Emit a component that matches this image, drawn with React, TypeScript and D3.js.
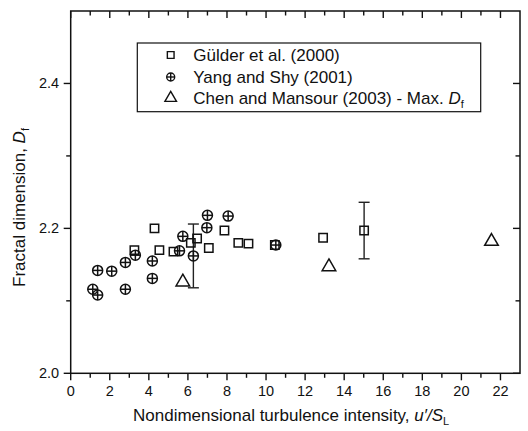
import React, { useEffect, useRef } from 'react';
import * as d3 from 'd3';

// Gülder et al. (2000)
const gulderX = [3.26, 4.29, 4.54, 5.26, 6.15, 6.47, 7.07, 7.87, 8.58, 9.10, 10.45, 12.92, 15.02];
const gulderY = [2.170, 2.200, 2.170, 2.168, 2.180, 2.186, 2.173, 2.197, 2.180, 2.179, 2.177, 2.187, 2.197];
// Yang and Shy (2001)
const yangX = [1.13, 1.38, 1.38, 2.10, 2.80, 2.80, 3.31, 4.18, 4.18, 5.57, 5.74, 6.28, 6.97, 7.00, 8.06, 10.50];
const yangY = [2.116, 2.108, 2.142, 2.141, 2.153, 2.116, 2.163, 2.155, 2.131, 2.169, 2.189, 2.162, 2.201, 2.218, 2.217, 2.177];
// Chen and Mansour (2003) - Max. Df
const chenX = [5.74, 13.22, 21.54];
const chenY = [2.126, 2.147, 2.182];
// error bars: [x, y, +/-]
const errX = [6.28, 15.02];
const errY = [2.162, 2.197];
const errD = [0.044, 0.039];

const xTicks = [0, 2, 4, 6, 8, 10, 12, 14, 16, 18, 20, 22];
const xMinor = [1, 3, 5, 7, 9, 11, 13, 15, 17, 19, 21];
const yTicks = [2.0, 2.2, 2.4];
const yMinor = [2.1, 2.3];

const W = 528;
const H = 431;
const FONT = 'Liberation Sans, Arial, Helvetica, sans-serif';

const App = () => {
  const ref = useRef<SVGSVGElement>(null);

  useEffect(() => {
    const svg = d3.select(ref.current);
    svg.selectAll('*').remove();

    const left = 70.7, right = 520, top = 11, bottom = 373.3;
    const x = d3.scaleLinear().domain([0, 23]).range([left, right]);
    const y = d3.scaleLinear().domain([2.0, 2.5]).range([bottom, top]);
    const ink = '#111';

    // frame
    svg.append('rect')
      .attr('x', left).attr('y', top)
      .attr('width', right - left).attr('height', bottom - top)
      .attr('fill', 'none').attr('stroke', ink).attr('stroke-width', 1.5);

    const tickLines = (g, vals, len, side) => {
      g.selectAll(null)
        .data(vals)
        .enter()
        .append('line')
        .attr('x1', d => side === 'b' || side === 't' ? x(d) : side === 'l' ? left : right)
        .attr('x2', d => side === 'b' || side === 't' ? x(d) : side === 'l' ? left - len : right - len)
        .attr('y1', d => side === 'l' || side === 'r' ? y(d) : side === 'b' ? bottom : top)
        .attr('y2', d => side === 'l' || side === 'r' ? y(d) : side === 'b' ? bottom + len : top + len)
        .attr('stroke', ink).attr('stroke-width', 1.4);
    };
    const axes = svg.append('g');
    tickLines(axes, xTicks, 7, 'b');
    tickLines(axes, xMinor, 4.5, 'b');
    tickLines(axes, xTicks, 7, 't');
    tickLines(axes, xMinor, 4.5, 't');
    tickLines(axes, yTicks, 7, 'l');
    tickLines(axes, yMinor, 4.5, 'l');
    tickLines(axes, yTicks, 7, 'r');
    tickLines(axes, yMinor, 4.5, 'r');

    // tick labels
    axes.selectAll(null)
      .data(xTicks)
      .enter()
      .append('text')
      .attr('x', d => x(d))
      .attr('y', bottom + 23)
      .attr('text-anchor', 'middle')
      .attr('font-family', FONT)
      .attr('font-size', 14.5)
      .attr('fill', ink)
      .text(d => d);
    axes.selectAll(null)
      .data(yTicks)
      .enter()
      .append('text')
      .attr('x', left - 11.5)
      .attr('y', d => y(d) + 5)
      .attr('text-anchor', 'end')
      .attr('font-family', FONT)
      .attr('font-size', 14.5)
      .attr('fill', ink)
      .text(d => d3.format('.1f')(d));

    // axis titles
    const xt = svg.append('text')
      .attr('x', 133).attr('y', 421)
      .attr('font-family', FONT).attr('font-size', 17).attr('fill', ink);
    xt.append('tspan').text('Nondimensional turbulence intensity, ');
    xt.append('tspan').attr('font-style', 'italic').text('u\u2032/S');
    xt.append('tspan').attr('font-size', 11).attr('dy', 4).text('L');

    const yt = svg.append('text')
      .attr('transform', 'translate(25,287) rotate(-90)')
      .attr('font-family', FONT).attr('font-size', 17).attr('fill', ink);
    yt.append('tspan').text('Fractal dimension, ');
    yt.append('tspan').attr('font-style', 'italic').text('D');
    yt.append('tspan').attr('font-size', 11).attr('dy', 4).text('f');

    // error bars
    const eb = svg.append('g').attr('stroke', '#222').attr('stroke-width', 1.4);
    errX.forEach((ex, i) => {
      const y0 = y(errY[i] - errD[i]);
      const y1 = y(errY[i] + errD[i]);
      eb.append('line').attr('x1', x(ex)).attr('x2', x(ex)).attr('y1', y0).attr('y2', y1);
      [y0, y1].forEach(v => {
        eb.append('line').attr('x1', x(ex) - 5.5).attr('x2', x(ex) + 5.5).attr('y1', v).attr('y2', v);
      });
    });

    const square = d3.symbol().type(d3.symbolSquare).size(70);
    const tri = d3.symbol().type(d3.symbolTriangle).size(80);
    const drawCross = (g, cx, cy, r) => {
      g.append('circle').attr('cx', cx).attr('cy', cy).attr('r', r);
      g.append('line').attr('x1', cx - r).attr('x2', cx + r).attr('y1', cy).attr('y2', cy);
      g.append('line').attr('x1', cx).attr('x2', cx).attr('y1', cy - r).attr('y2', cy + r);
    };

    const pts = svg.append('g').attr('fill', 'none').attr('stroke', ink).attr('stroke-width', 1.5);
    pts.selectAll(null)
      .data(d3.zip(gulderX, gulderY))
      .enter()
      .append('path')
      .attr('d', square)
      .attr('transform', d => `translate(${x(d[0])},${y(d[1])})`);
    d3.zip(yangX, yangY).forEach(d => drawCross(pts, x(d[0]), y(d[1]), 5));
    pts.selectAll(null)
      .data(d3.zip(chenX, chenY))
      .enter()
      .append('path')
      .attr('d', tri)
      .attr('transform', d => `translate(${x(d[0])},${y(d[1])})`);

    // legend
    const lg = svg.append('g');
    lg.append('rect')
      .attr('x', 137.3).attr('y', 43)
      .attr('width', 343.4).attr('height', 68.7)
      .attr('fill', '#fff').attr('stroke', ink).attr('stroke-width', 1.2);
    const labels = ['Gülder et al. (2000)', 'Yang and Shy (2001)', 'Chen and Mansour (2003) - Max. '];
    const base = [61, 83, 104];
    const sym = lg.append('g').attr('fill', 'none').attr('stroke', ink).attr('stroke-width', 1.4);
    sym.append('path').attr('d', d3.symbol().type(d3.symbolSquare).size(45)).attr('transform', `translate(170.7,${base[0] - 6})`);
    drawCross(sym, 170.7, base[1] - 6, 4);
    sym.append('path').attr('d', d3.symbol().type(d3.symbolTriangle).size(58)).attr('transform', `translate(170.7,${base[2] - 6})`);
    labels.forEach((t, i) => {
      const tx = lg.append('text')
        .attr('x', 193.3).attr('y', base[i])
        .attr('font-family', FONT).attr('font-size', 17).attr('fill', ink);
      tx.append('tspan').text(t);
      if (i === 2) {
        tx.append('tspan').attr('font-style', 'italic').text('D');
        tx.append('tspan').attr('font-size', 11).attr('dy', 4).text('f');
      }
    });
  }, []);

  return (
    <svg ref={ref} width={W} height={H}
      style={{ position: 'absolute', left: 0, top: 0, background: '#fff' }} />
  );
};

export default App;
